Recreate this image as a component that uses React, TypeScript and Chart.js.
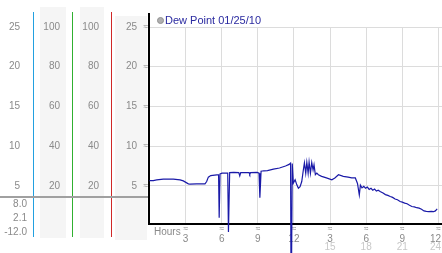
import { useEffect, useRef } from 'react';
import { Chart, registerables } from 'chart.js';

Chart.register(...registerables);

// ---- data ----
const HOURS = [
  0.0, 0.32, 0.6, 1.15, 1.98, 2.54, 2.81, 3.23, 3.37, 3.92, 4.61, 4.75, 4.89, 5.09, 5.59, 5.74,
  5.79, 5.86, 6.03, 6.5, 6.56, 6.66, 7.0, 7.42, 7.5, 7.58, 8.1, 8.28, 8.33, 8.4, 8.95, 9.1,
  9.17, 9.27, 9.5, 9.8, 10.3, 10.8, 11.3, 11.6, 11.72, 11.77, 11.86, 11.95, 12.1, 12.24, 12.37,
  12.51, 12.65, 12.78, 12.87, 12.98, 13.07, 13.18, 13.26, 13.37, 13.48, 13.59, 13.67, 13.78,
  13.9, 14.03, 14.3, 14.7, 15.15, 15.4, 15.7, 16.1, 16.5, 16.8, 17.1, 17.28, 17.43, 17.52,
  17.65, 17.8, 17.95, 18.1, 18.25, 18.4, 18.55, 18.7, 18.85, 19.0, 19.16, 19.4, 19.6, 19.8,
  20.0, 20.2, 20.4, 20.6, 20.82, 21.0, 21.2, 21.4, 21.6, 21.8, 22.0, 22.2, 22.4, 22.6, 22.8,
  23.0, 23.2, 23.4, 23.6, 23.75, 23.9,
];
const DEW_POINT = [
  5.67, 5.67, 5.76, 5.85, 5.85, 5.76, 5.63, 5.26, 5.22, 5.26, 5.26, 5.55, 6.1, 6.3, 6.39, 6.39,
  1.0, 6.5, 6.6, 6.62, -0.8, 6.68, 6.7, 6.68, 6.26, 6.66, 6.68, 6.66, 6.45, 6.68, 6.7, 6.6,
  3.5, 6.85, 6.9, 6.92, 7.1, 7.25, 7.5, 7.7, 7.86, -12.0, 7.8, 5.35, 5.76, 5.13, 4.7,
  4.9, 5.55, 7.0, 7.9, 6.6, 7.95, 6.6, 8.0, 6.6, 7.95, 7.0, 7.65, 6.4,
  6.6, 6.4, 6.2, 6.0, 5.76, 6.0, 6.4, 6.2, 6.1, 6.0, 6.0, 5.3, 3.85, 5.1,
  4.75, 4.95, 4.7, 4.85, 4.55, 4.7, 4.45, 4.6, 4.35, 4.45, 4.29, 4.1, 3.9, 3.8,
  3.66, 3.55, 3.35, 3.25, 3.03, 2.95, 2.83, 2.75, 2.55, 2.4, 2.35, 2.25, 2.2, 2.05, 1.85,
  1.8, 1.77, 1.8, 1.75, 1.85, 2.1,
];
const X_TICKS = [3, 6, 9, 12, 15, 18, 21, 24];
const X_LABELS = ['3', '6', '9', '12', '3', '6', '9', '12'];
const X_LABELS_24H = ['', '', '', '', '15', '18', '21', '24'];
const DEW_TICKS = [5, 10, 15, 20, 25];
const HUM_TICKS = [20, 40, 60, 80, 100];
const STATS = ['8.0', '2.1', '-12.0'];
const LEGEND_LABEL = 'Dew Point 01/25/10';
const X_TITLE = 'Hours';
const MARK = '≈';
const X_MIN = -0.04;
const X_MAX = 24.3;
const Y_MIN = 0.2;
const Y_MAX = 25;
const H_MIN = 0.8;
const H_MAX = 100;
const SEPARATOR_VALUE = 3.6;

const FONT = 'Liberation Sans, Arial, sans-serif';
const LABEL_GRAY = '#8a8a8a';

const setTicks = (vals: number[]) => (s: any) => {
  s.ticks = vals.map((v) => ({ value: v }));
};
const fixW = (w: number) => (s: any) => {
  s.width = w;
  s.paddingTop = 0;
  s.paddingBottom = 0;
};
const fixH = (h: number) => (s: any) => {
  s.height = h;
  s.paddingLeft = 0;
  s.paddingRight = 0;
};

const decorPlugin = {
  id: 'decor',
  beforeDraw(chart: any) {
    const { ctx, scales, chartArea } = chart;
    const yo = scales.yOuter, h1 = scales.h1, h2 = scales.h2, yl = scales.yLabel, ym = scales.y;
    ctx.save();
    ctx.fillStyle = '#f5f5f5';
    ctx.fillRect(h1.left + 7, 7, h1.width - 13, 231);
    ctx.fillRect(h2.left + 8, 7, h2.width - 15, 231);
    ctx.fillRect(yl.left + 4, 16, yl.width + ym.width - 6, 224);
    const lines: [any, string][] = [[yo, '#22a0e0'], [h1, '#30b030'], [h2, '#d02828']];
    lines.forEach(([s, c]) => {
      const x = Math.round(s.right) + 0.5;
      ctx.strokeStyle = c;
      ctx.lineWidth = 1;
      ctx.beginPath();
      ctx.moveTo(x, 12);
      ctx.lineTo(x, 237);
      ctx.stroke();
    });
    const sy = Math.round(ym.getPixelForValue(SEPARATOR_VALUE));
    ctx.strokeStyle = '#a0a0a0';
    ctx.lineWidth = 2;
    ctx.beginPath();
    ctx.moveTo(0, sy);
    ctx.lineTo(chartArea.left, sy);
    ctx.stroke();
    ctx.restore();
  },
  afterDraw(chart: any) {
    const { ctx, chartArea } = chart;
    ctx.save();
    // axis extension above plot
    ctx.strokeStyle = '#000';
    ctx.lineWidth = 2;
    ctx.beginPath();
    ctx.moveTo(Math.round(chartArea.left), 13);
    ctx.lineTo(Math.round(chartArea.left), chartArea.top);
    ctx.stroke();
    // legend
    ctx.fillStyle = '#b0b0b0';
    ctx.strokeStyle = '#909090';
    ctx.lineWidth = 1;
    ctx.beginPath();
    ctx.arc(chartArea.left + 11.5, 20.5, 3, 0, Math.PI * 2);
    ctx.fill();
    ctx.stroke();
    ctx.fillStyle = '#2a2aa0';
    ctx.font = `11px ${FONT}`;
    ctx.textBaseline = 'middle';
    ctx.textAlign = 'left';
    ctx.fillText(LEGEND_LABEL, chartArea.left + 16, 21);
    // x title
    ctx.fillStyle = LABEL_GRAY;
    ctx.font = `10px ${FONT}`;
    ctx.fillText(X_TITLE, chartArea.left + 5, 232);
    // stats
    ctx.textAlign = 'right';
    const ys = [204.5, 218.5, 232];
    STATS.forEach((t, i) => ctx.fillText(t, 27, ys[i]));
    ctx.restore();
  },
};

export default function App() {
  const ref = useRef<HTMLCanvasElement | null>(null);
  useEffect(() => {
    if (!ref.current) return;
    const points = HOURS.map((h, i) => ({ x: h, y: DEW_POINT[i] }));
    const tickFont = { family: FONT, size: 10, lineHeight: 1 };
    const markFont = { family: FONT, size: 8, lineHeight: 1 };
    const noGrid = { display: false, drawTicks: false, tickLength: 0 };
    const noBorder = { display: false };
    const lastIdx = X_TICKS.length - 1;
    const chart = new Chart(ref.current, {
      type: 'line',
      data: {
        datasets: [
          {
            label: LEGEND_LABEL,
            data: points,
            borderColor: '#1a1aa8',
            backgroundColor: '#b0b0b0',
            borderWidth: 1.2,
            pointRadius: 0,
            tension: 0,
            clip: false as any,
          },
        ],
      },
      options: {
        animation: false,
        responsive: false,
        devicePixelRatio: 1,
        layout: { padding: { top: 27, left: 0, right: 0, bottom: 0 } },
        plugins: { legend: { display: false }, tooltip: { enabled: false } },
        scales: {
          x: {
            type: 'linear', position: 'bottom', weight: 0, min: X_MIN, max: X_MAX,
            afterBuildTicks: setTicks(X_TICKS), afterFit: fixH(9),
            grid: { display: true, drawOnChartArea: true, drawTicks: false, tickLength: 0, color: '#dcdcdc', lineWidth: 1 },
            border: { display: true, color: '#000', width: 2 },
            ticks: { callback: () => MARK, font: markFont, color: '#8a8a8a', padding: 1, autoSkip: false, maxRotation: 0 },
          },
          xLabel: {
            type: 'linear', axis: 'x', position: 'bottom', weight: 1, min: X_MIN, max: X_MAX,
            afterBuildTicks: setTicks(X_TICKS), afterFit: fixH(9),
            grid: noGrid, border: noBorder,
            ticks: {
              callback: (_v: any, i: number) => (i === lastIdx ? X_LABELS[i] + '  ' : X_LABELS[i]),
              font: tickFont, color: LABEL_GRAY, padding: 1, autoSkip: false, maxRotation: 0,
            },
          },
          xLabel2: {
            type: 'linear', axis: 'x', position: 'bottom', weight: 2, min: X_MIN, max: X_MAX,
            afterBuildTicks: setTicks(X_TICKS), afterFit: fixH(11),
            grid: noGrid, border: noBorder,
            ticks: {
              callback: (_v: any, i: number) => (i === lastIdx ? X_LABELS_24H[i] + '  ' : X_LABELS_24H[i]),
              font: tickFont, color: '#c8c8c8', padding: 0, autoSkip: false, maxRotation: 0,
            },
          },
          y: {
            type: 'linear', position: 'left', weight: 0, min: Y_MIN, max: Y_MAX,
            afterBuildTicks: setTicks(DEW_TICKS), afterFit: fixW(8),
            grid: { display: true, drawOnChartArea: true, drawTicks: false, tickLength: 0, color: '#dcdcdc', lineWidth: 1 },
            border: { display: true, color: '#000', width: 2 },
            ticks: { callback: () => MARK, font: markFont, color: '#8a8a8a', padding: 1 },
          },
          yLabel: {
            type: 'linear', axis: 'y', position: 'left', weight: 1, min: Y_MIN, max: Y_MAX,
            afterBuildTicks: setTicks(DEW_TICKS), afterFit: fixW(30),
            grid: noGrid, border: noBorder,
            ticks: { callback: (v: any) => String(v), font: tickFont, color: LABEL_GRAY, padding: 4 },
          },
          h2: {
            type: 'linear', axis: 'y', position: 'left', weight: 2, min: H_MIN, max: H_MAX,
            afterBuildTicks: setTicks(HUM_TICKS), afterFit: fixW(39),
            grid: noGrid, border: noBorder,
            ticks: { callback: (v: any) => String(v), font: tickFont, color: LABEL_GRAY, padding: 12 },
          },
          h1: {
            type: 'linear', axis: 'y', position: 'left', weight: 3, min: H_MIN, max: H_MAX,
            afterBuildTicks: setTicks(HUM_TICKS), afterFit: fixW(39),
            grid: noGrid, border: noBorder,
            ticks: { callback: (v: any) => String(v), font: tickFont, color: LABEL_GRAY, padding: 12 },
          },
          yOuter: {
            type: 'linear', axis: 'y', position: 'left', weight: 4, min: Y_MIN, max: Y_MAX,
            afterBuildTicks: setTicks(DEW_TICKS), afterFit: fixW(33),
            grid: noGrid, border: noBorder,
            ticks: { callback: (v: any) => String(v), font: tickFont, color: LABEL_GRAY, padding: 13 },
          },
        } as any,
      },
      plugins: [decorPlugin],
    });
    return () => chart.destroy();
  }, []);
  return (
    <div style={{ position: 'absolute', left: 0, top: 0, width: 442, height: 253 }}>
      <canvas ref={ref} width={442} height={253} />
    </div>
  );
}
